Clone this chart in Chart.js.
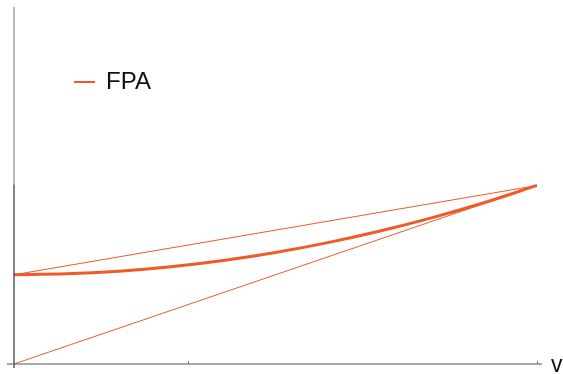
<!DOCTYPE html>
<html>
<head>
<meta charset="utf-8">
<script src="https://cdn.jsdelivr.net/npm/chart.js@4/dist/chart.umd.min.js"></script>
<style>
  html, body { margin: 0; padding: 0; background: #fff; }
  #wrap { width: 563px; height: 374px; position: relative; }
</style>
</head>
<body>
<div id="wrap"><canvas id="c" width="563" height="374"></canvas></div>
<script>
// FPA curve sampled along v
const vValues   = [0, 0.1, 0.2, 0.3, 0.4, 0.5, 0.6, 0.7, 0.8, 0.9, 1.0];
const fpaValues = [0.5, 0.505, 0.52, 0.545, 0.58, 0.625, 0.68, 0.745, 0.82, 0.905, 1.0];

// chord joining the curve's end points
const chordV = [0, 1];
const chordY = [0.5, 1.0];

// tangent line at the right end
const tangentV = [0, 1];
const tangentY = [0, 1.0];

// axis ranges and tick positions on the v axis
const vRange = [0, 1];
const yRange = [0, 2];
const vTicks = [0, 1 / 3, 1];

const ORANGE = '#ef5a28';

const pts = (xs, ys) => xs.map((x, i) => ({ x: x, y: ys[i] }));

const axesPlugin = {
  id: 'axesAndLegend',
  afterDatasetsDraw(chart) {
    const ctx = chart.ctx;
    const xs = chart.scales.x, ys = chart.scales.y;
    const x0 = xs.getPixelForValue(0);
    const y0 = ys.getPixelForValue(0);
    const y1 = ys.getPixelForValue(1);
    const yTop = ys.getPixelForValue(yRange[1]);
    ctx.save();
    // vertical axis: light above 1, dark below
    ctx.lineWidth = 1.2;
    ctx.strokeStyle = '#8a8a8a';
    ctx.beginPath(); ctx.moveTo(x0, yTop); ctx.lineTo(x0, y1 - 1); ctx.stroke();
    ctx.strokeStyle = '#333';
    ctx.beginPath(); ctx.moveTo(x0, y1 - 1); ctx.lineTo(x0, y0 + 4); ctx.stroke();
    // horizontal axis
    ctx.strokeStyle = '#555';
    ctx.lineWidth = 1.2;
    ctx.beginPath(); ctx.moveTo(x0 - 7, y0); ctx.lineTo(xs.getPixelForValue(1) + 5, y0); ctx.stroke();
    // ticks
    ctx.lineWidth = 1;
    ctx.strokeStyle = '#777';
    vTicks.forEach(t => {
      const px = Math.round(xs.getPixelForValue(t)) + 0.5;
      ctx.beginPath(); ctx.moveTo(px, y0 - 3); ctx.lineTo(px, y0); ctx.stroke();
    });
    // axis label
    ctx.fillStyle = '#111';
    ctx.font = '23px "Liberation Sans", Arial, sans-serif';
    ctx.textBaseline = 'middle';
    ctx.textAlign = 'left';
    ctx.fillText('v', 551, y0 + 2);
    // legend
    ctx.strokeStyle = ORANGE;
    ctx.lineWidth = 2;
    ctx.beginPath(); ctx.moveTo(74, 82); ctx.lineTo(95, 82); ctx.stroke();
    ctx.fillStyle = '#111';
    ctx.font = '24px "Liberation Sans", Arial, sans-serif';
    ctx.fillText('FPA', 106, 82);
    ctx.restore();
  }
};

new Chart(document.getElementById('c'), {
  type: 'line',
  data: {
    datasets: [
      {
        label: 'chord',
        data: pts(chordV, chordY),
        borderColor: ORANGE, borderWidth: 1, pointRadius: 0, tension: 0
      },
      {
        label: 'tangent',
        data: pts(tangentV, tangentY),
        borderColor: ORANGE, borderWidth: 1, pointRadius: 0, tension: 0
      },
      {
        label: 'FPA',
        data: pts(vValues, fpaValues),
        borderColor: ORANGE, borderWidth: 3, pointRadius: 0,
        cubicInterpolationMode: 'monotone'
      }
    ]
  },
  options: {
    responsive: false,
    animation: false,
    layout: { padding: { left: 14, right: 26, top: 7, bottom: 10 } },
    plugins: { legend: { display: false }, tooltip: { enabled: false } },
    scales: {
      x: { type: 'linear', min: vRange[0], max: vRange[1], display: false },
      y: { type: 'linear', min: yRange[0], max: yRange[1], display: false }
    }
  },
  plugins: [axesPlugin]
});
</script>
</body>
</html>
